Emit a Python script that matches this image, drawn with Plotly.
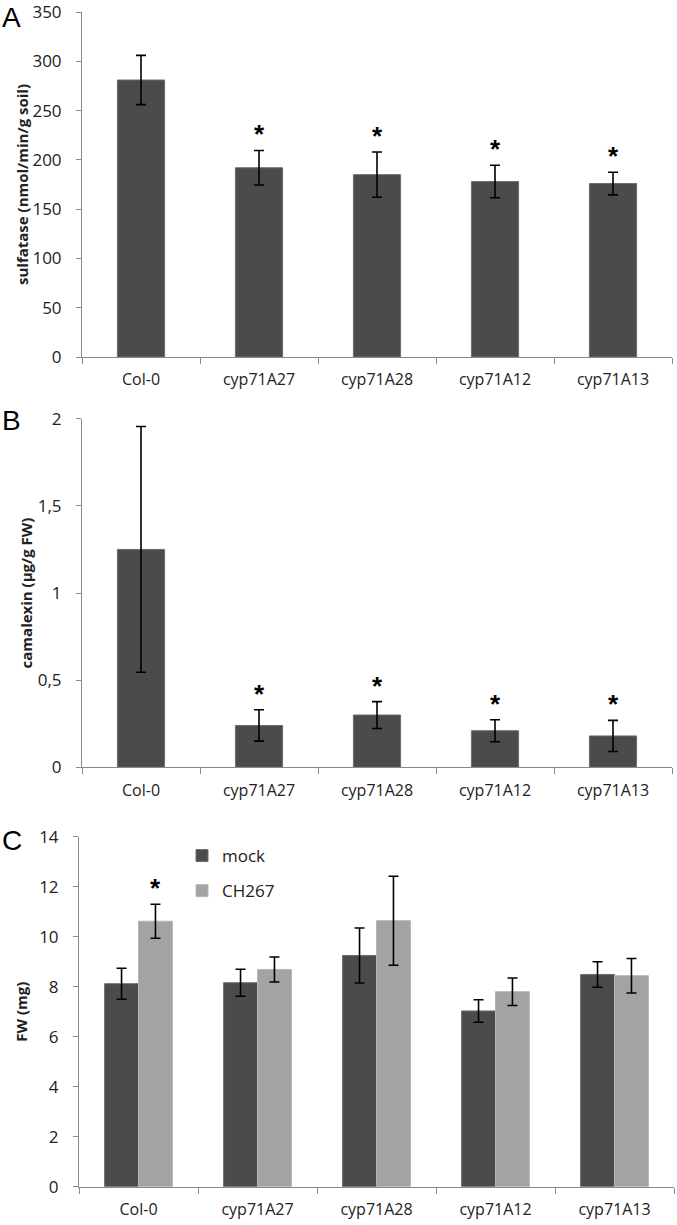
import plotly.graph_objects as go

W, H = 677, 1225

categories = ["Col-0", "cyp71A27", "cyp71A28", "cyp71A12", "cyp71A13"]

sulfatase = [281, 192, 185, 178, 176]
sulfatase_err = [25, 17.5, 23, 16.5, 11.5]
sulfatase_sig = [False, True, True, True, True]

camalexin = [1.25, 0.24, 0.30, 0.21, 0.18]
camalexin_err = [0.705, 0.09, 0.077, 0.063, 0.089]
camalexin_sig = [False, True, True, True, True]

fw_mock = [8.12, 8.16, 9.25, 7.03, 8.49]
fw_mock_err = [0.62, 0.54, 1.10, 0.45, 0.51]
fw_ch267 = [10.62, 8.69, 10.64, 7.80, 8.44]
fw_ch267_err = [0.68, 0.50, 1.78, 0.55, 0.69]
fw_ch267_sig = [True, False, False, False, False]

DARK = "#4b4b4b"
LIGHT = "#a3a3a3"
AXIS = "#8a8a8a"
TXT = "#222222"
FONT = "Open Sans"

def px_x(p):
    return p / W

def px_y(p):
    return 1 - p / H

err_style = dict(type="data", color="black", thickness=1.6, width=5)

fig = go.Figure()

fig.add_trace(go.Bar(x=categories, y=sulfatase, width=0.4,
                     marker=dict(color=DARK, line=dict(color="#6e6e6e", width=1)),
                     error_y=dict(array=sulfatase_err, **err_style),
                     xaxis="x", yaxis="y", showlegend=False))
fig.add_trace(go.Bar(x=categories, y=camalexin, width=0.4,
                     marker=dict(color=DARK, line=dict(color="#6e6e6e", width=1)),
                     error_y=dict(array=camalexin_err, **err_style),
                     xaxis="x2", yaxis="y2", showlegend=False))
fig.add_trace(go.Bar(x=categories, y=fw_mock, name="mock", legendgroup="a",
                     marker=dict(color=DARK, line=dict(color="#6e6e6e", width=1)),
                     error_y=dict(array=fw_mock_err, **err_style),
                     xaxis="x3", yaxis="y3"))
fig.add_trace(go.Bar(x=categories, y=fw_ch267, name="CH267", legendgroup="b",
                     marker=dict(color=LIGHT, line=dict(color="#b5b5b5", width=1)),
                     error_y=dict(array=fw_ch267_err, **err_style),
                     xaxis="x3", yaxis="y3"))

annotations = []
star_font = dict(family="Liberation Sans", size=26, color="black")
for c, v, e, s in zip(categories, sulfatase, sulfatase_err, sulfatase_sig):
    if s:
        annotations.append(dict(x=c, y=v + e, xref="x", yref="y", text="<b>*</b>",
                                showarrow=False, yanchor="bottom", yshift=-1, font=star_font))
for c, v, e, s in zip(categories, camalexin, camalexin_err, camalexin_sig):
    if s:
        annotations.append(dict(x=c, y=v + e, xref="x2", yref="y2", text="<b>*</b>",
                                showarrow=False, yanchor="bottom", yshift=-1, font=star_font))
for c, v, e, s in zip(categories, fw_ch267, fw_ch267_err, fw_ch267_sig):
    if s:
        annotations.append(dict(x=c, y=v + e, xref="x3", yref="y3", text="<b>*</b>",
                                showarrow=False, yanchor="bottom", yshift=-1, xshift=17,
                                font=star_font))

for letter, top in [("A", 0), ("B", 403), ("C", 823)]:
    annotations.append(dict(x=0, y=px_y(top), xref="paper", yref="paper", text=letter,
                            showarrow=False, xanchor="left", yanchor="top",
                            font=dict(family="Liberation Sans", size=28, color="black")))

xcommon = dict(type="category", showline=True, linecolor=AXIS, linewidth=1,
               ticks="outside", tickson="boundaries", ticklen=6, tickcolor=AXIS,
               tickfont=dict(family=FONT, size=16, color=TXT), showgrid=False,
               zeroline=False, fixedrange=True, automargin=False, ticklabelstandoff=8)
ycommon = dict(showline=True, linecolor=AXIS, linewidth=1, ticks="outside", ticklen=5,
               tickcolor=AXIS, tickfont=dict(family=FONT, size=17, color=TXT),
               showgrid=False, zeroline=False, fixedrange=True, automargin=False,
               ticklabeloverflow="allow", ticklabelstandoff=11)
title_font = dict(family=FONT, size=15, color=TXT)

fig.update_layout(
    width=W, height=H,
    margin=dict(l=0, r=0, t=0, b=0, autoexpand=False),
    paper_bgcolor="white", plot_bgcolor="white",
    separators=", ",
    barmode="group", bargap=0.43, bargroupgap=0,
    font=dict(family=FONT, color=TXT),
    xaxis=dict(domain=[px_x(82), px_x(672)], anchor="y", **xcommon),
    xaxis2=dict(domain=[px_x(82), px_x(672)], anchor="y2", **xcommon),
    xaxis3=dict(domain=[px_x(79), px_x(674)], anchor="y3", **xcommon),
    yaxis=dict(domain=[px_y(357), px_y(12)], anchor="x", range=[0, 350], dtick=50,
               title=dict(text="<b>sulfatase (nmol/min/g soil)</b>", font=title_font, standoff=0),
               **ycommon),
    yaxis2=dict(domain=[px_y(767.3), px_y(418.7)], anchor="x2", range=[0, 2], dtick=0.5,
                title=dict(text="<b>camalexin (µg/g FW)</b>", font=title_font, standoff=1),
                **ycommon),
    yaxis3=dict(domain=[px_y(1186.7), px_y(836.7)], anchor="x3", range=[0, 14], dtick=2,
                title=dict(text="<b>FW (mg)</b>", font=title_font, standoff=7),
                **ycommon),
    legend=dict(x=px_x(182), y=px_y(838), xanchor="left", yanchor="top",
                font=dict(family=FONT, size=17, color=TXT), tracegroupgap=10,
                bgcolor="rgba(0,0,0,0)"),
    annotations=annotations,
)

fig.write_html("out.html", post_script="document.body.style.margin='0';",
               config={"displayModeBar": False})
